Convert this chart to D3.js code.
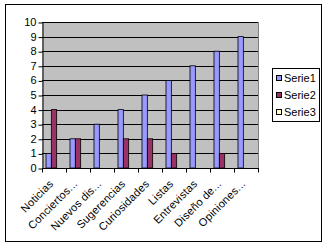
<!DOCTYPE html>
<html><head><meta charset="utf-8">
<script src="https://cdn.jsdelivr.net/npm/d3@7"></script>
<style>body{margin:0;background:#fff}svg{display:block;font-family:"Liberation Sans",Arial,sans-serif}</style>
</head><body>
<svg id="c" width="324" height="244"></svg>
<script>
const categories = ["Noticias","Conciertos...","Nuevos dis...","Sugerencias","Curiosidades","Listas","Entrevistas","Diseño de...","Opiniones..."];
const serie1 = [1,2,3,4,5,6,7,8,9];
const serie2 = [4,2,0,2,2,1,0,1,0];
const serie3 = [0,0,0,0,0,0,0,0,0];
const seriesNames = ["Serie1","Serie2","Serie3"];
const seriesColors = ["#9999FF","#993366","#FFFFCC"];
const yTicks = [0,1,2,3,4,5,6,7,8,9,10];

const svg = d3.select("#c");
svg.append("rect").attr("x",5.5).attr("y",4.5).attr("width",316).attr("height",237).attr("fill","#fff").attr("stroke","#000");

const L=42,R=258,T=22,B=168;
const x = d3.scaleBand().domain(categories).range([L,R]);
const xs = d3.scaleBand().domain(seriesNames).range([0,x.bandwidth()]).paddingOuter(0.75);
const y = d3.scaleLinear().domain([0,10]).range([B,T]);

svg.append("rect").attr("x",L).attr("y",T).attr("width",R-L).attr("height",B-T).attr("fill","#C0C0C0");
svg.append("g").selectAll("line").data(yTicks.slice(1)).join("line")
  .attr("x1",L).attr("x2",R).attr("y1",d=>Math.round(y(d))+0.5).attr("y2",d=>Math.round(y(d))+0.5)
  .attr("stroke","#000");
svg.append("line").attr("x1",R+0.5).attr("x2",R+0.5).attr("y1",T).attr("y2",B).attr("stroke","#808080");

const data = [serie1,serie2,serie3];
data.forEach((vals,si)=>{
  svg.append("g").selectAll("rect").data(vals).join("rect")
    .attr("x",(d,i)=>x(categories[i])+xs(seriesNames[si]))
    .attr("y",d=>y(d))
    .attr("width",xs.bandwidth())
    .attr("height",d=>B-y(d))
    .attr("fill",seriesColors[si])
    .attr("stroke",d=>d>0?"#000":"none").attr("stroke-width",0.8);
});

// y axis
const ya = svg.append("g").attr("transform",`translate(${L+0.5},0)`)
  .call(d3.axisLeft(y).tickValues(yTicks).tickSize(4).tickSizeOuter(0).tickPadding(2));
ya.selectAll("path,line").attr("stroke","#000");
ya.selectAll("text").attr("font-size",11).attr("font-family","Liberation Sans, Arial").attr("fill","#000");
ya.selectAll(".tick line").attr("transform","translate(0,0.5)");

// x axis
const xa = svg.append("g").attr("transform",`translate(0,${B+0.5})`);
xa.append("line").attr("x1",L).attr("x2",R+1).attr("stroke","#000");
xa.selectAll("line.tk").data(categories.concat(["_end"])).join("line").attr("class","tk")
  .attr("x1",(d,i)=>Math.round(L+i*x.step())+0.5).attr("x2",(d,i)=>Math.round(L+i*x.step())+0.5)
  .attr("y1",0).attr("y2",4).attr("stroke","#000");
xa.selectAll("text").data(categories).join("text")
  .attr("transform",d=>`translate(${x(d)+x.bandwidth()/2},${16}) rotate(-45)`)
  .attr("text-anchor","end").attr("font-size",11).attr("letter-spacing",0.2).attr("fill","#000").text(d=>d);

// legend
const lg = svg.append("g");
lg.append("rect").attr("x",272.5).attr("y",68.5).attr("width",47).attr("height",53).attr("fill","#fff").attr("stroke","#000");
seriesNames.forEach((s,i)=>{
  const cy = 78+i*17;
  lg.append("rect").attr("x",276.5).attr("y",cy-2.5).attr("width",5).attr("height",5).attr("fill",seriesColors[i]).attr("stroke","#000");
  lg.append("text").attr("x",284).attr("y",cy+4).attr("font-size",11).attr("fill","#000").text(s);
});
</script>
</body></html>
